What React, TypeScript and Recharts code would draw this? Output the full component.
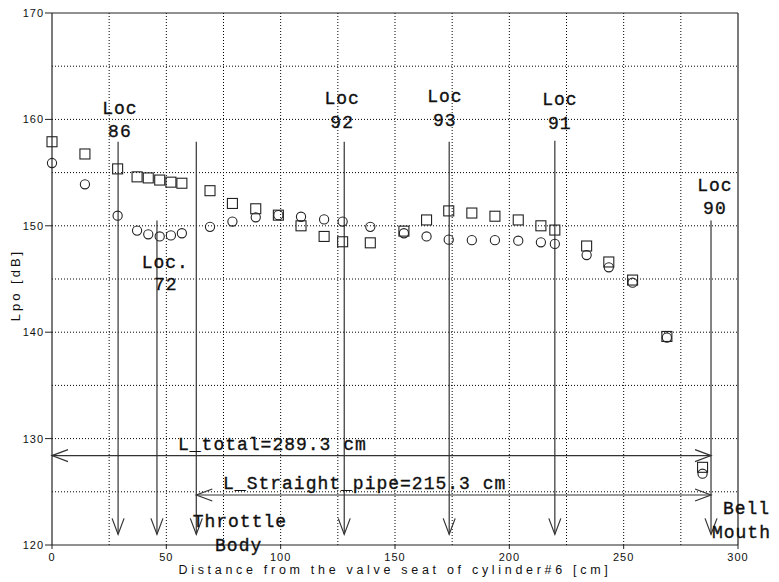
import React from 'react';
import { ScatterChart, Scatter, XAxis, YAxis, ReferenceLine, ReferenceDot } from 'recharts';

// Measurement positions [cm]
const positions = [0, 14.4, 28.7, 37.2, 42.1, 47.1, 52, 56.8, 69.1, 78.9, 89.1, 99, 108.9, 119, 127.1, 139.2, 153.9, 163.8, 173.5, 183.6, 193.7, 203.9, 213.8, 219.9, 233.8, 243.5, 253.9, 268.9, 284.5];
// Series 1 (squares) Lpo [dB]
const squareValues = [157.9, 156.75, 155.35, 154.6, 154.5, 154.3, 154.1, 154.0, 153.3, 152.1, 151.6, 151.0, 150.0, 149.0, 148.5, 148.4, 149.5, 150.55, 151.4, 151.2, 150.9, 150.55, 150.0, 149.6, 148.1, 146.6, 144.9, 139.6, 127.3];
// Series 2 (circles) Lpo [dB]
const circleValues = [155.9, 153.9, 150.95, 149.55, 149.2, 149.0, 149.1, 149.3, 149.9, 150.4, 150.8, 151.0, 150.85, 150.6, 150.4, 149.9, 149.3, 149.0, 148.7, 148.65, 148.65, 148.6, 148.45, 148.3, 147.25, 146.1, 144.65, 139.5, 126.7];

const xTicks = [0, 50, 100, 150, 200, 250, 300];
const yTicks = [120, 130, 140, 150, 160, 170];
const xGrid = [25, 50, 75, 100, 125, 150, 175, 200, 225, 250, 275];
const yGrid = [125, 130, 135, 140, 145, 150, 155, 160, 165];

// Vertical location arrows: x position, top value, bottom value
const arrowX = [28.9, 45.9, 63.1, 127.8, 173.7, 219.9, 288.2];
const arrowTop = [157.9, 150.5, 157.9, 157.9, 157.9, 158.0, 150.5];
const arrowBottom = 121.0;

// Horizontal length arrows
const lengthArrows = [
  { y: 128.4, from: 0, to: 288.2 },
  { y: 124.7, from: 63.1, to: 288.2 },
];

// Text annotations (data coordinates)
const annotations = [
  { text: 'Loc', x: 29.7, y: 161.0, anchor: 'middle' },
  { text: '86', x: 29.7, y: 158.8, anchor: 'middle' },
  { text: 'Loc.', x: 39.2, y: 146.5, anchor: 'start' },
  { text: '72', x: 49.8, y: 144.4, anchor: 'middle' },
  { text: 'Loc', x: 126.9, y: 161.9, anchor: 'middle' },
  { text: '92', x: 126.9, y: 159.65, anchor: 'middle' },
  { text: 'Loc', x: 171.8, y: 162.1, anchor: 'middle' },
  { text: '93', x: 171.8, y: 159.85, anchor: 'middle' },
  { text: 'Loc', x: 222.1, y: 161.8, anchor: 'middle' },
  { text: '91', x: 222.1, y: 159.6, anchor: 'middle' },
  { text: 'Loc', x: 289.9, y: 153.7, anchor: 'middle' },
  { text: '90', x: 289.9, y: 151.55, anchor: 'middle' },
  { text: 'Throttle', x: 61.5, y: 122.15, anchor: 'start' },
  { text: 'Body', x: 71.3, y: 119.9, anchor: 'start' },
  { text: 'Bell', x: 293.4, y: 123.4, anchor: 'start' },
  { text: 'Mouth', x: 288.6, y: 121.1, anchor: 'start' },
  { text: 'L_total=289.3 cm', x: 55.1, y: 129.4, anchor: 'start' },
  { text: 'L_Straight_pipe=215.3 cm', x: 74.8, y: 125.7, anchor: 'start' },
];

const squareData = positions.map((x, i) => ({ x, y: squareValues[i] }));
const circleData = positions.map((x, i) => ({ x, y: circleValues[i] }));

const INK = '#222';
const ARROW = '#333';
const HEAD_LEN = 16;
const HEAD_HALF = 6;

function head(tx: number, ty: number, dx: number, dy: number, key: string) {
  const bx = tx - dx * HEAD_LEN;
  const by = ty - dy * HEAD_LEN;
  const px = -dy * HEAD_HALF;
  const py = dx * HEAD_HALF;
  return (
    <path
      key={key}
      d={`M${bx + px},${by + py} L${tx},${ty} L${bx - px},${by - py}`}
      fill="none"
      stroke={ARROW}
      strokeWidth={1.2}
    />
  );
}

const downArrow = (p: any) => {
  const { x1, y1, y2 } = p;
  const top = Math.min(y1, y2);
  const bot = Math.max(y1, y2);
  return (
    <g>
      <line x1={x1} y1={top} x2={x1} y2={bot} stroke={ARROW} strokeWidth={1.2} />
      {head(x1, bot, 0, 1, 'h')}
    </g>
  );
};

const bothArrow = (p: any) => {
  const { x1, y1, x2 } = p;
  const l = Math.min(x1, x2);
  const r = Math.max(x1, x2);
  return (
    <g>
      <line x1={l} y1={y1} x2={r} y2={y1} stroke={ARROW} strokeWidth={1.2} />
      {head(l, y1, -1, 0, 'l')}
      {head(r, y1, 1, 0, 'r')}
    </g>
  );
};

const squareShape = (p: any) => (
  <rect x={p.cx - 5} y={p.cy - 5} width={10} height={10} fill="none" stroke={INK} strokeWidth={1.1} />
);
const circleShape = (p: any) => (
  <circle cx={p.cx} cy={p.cy} r={4.6} fill="none" stroke={INK} strokeWidth={1.1} />
);

const textShape = (text: string, anchor: string) => (p: any) => (
  <text
    x={p.cx}
    y={p.cy}
    textAnchor={anchor}
    dominantBaseline="central"
    fontFamily="'Liberation Mono', monospace"
    fontSize={18}
    letterSpacing={1}
    fill="#111"
    stroke="#111"
    strokeWidth={0.35}
  >
    {text}
  </text>
);

const tickFont = { fontFamily: "'Liberation Sans', Arial, sans-serif", fontSize: 11, fill: '#111', letterSpacing: 1 };

export default function App() {
  return (
    <div style={{ width: 779, height: 582, background: '#fff' }}>
      <style>{`body{margin:0;background:#fff}`}</style>
      <ScatterChart width={779} height={582} margin={{ top: 13, right: 41, bottom: 7, left: 0 }}>
        {xGrid.map((v) => (
          <ReferenceLine key={`gx${v}`} x={v} stroke="#000" strokeDasharray="1 2" strokeWidth={1} />
        ))}
        {yGrid.map((v) => (
          <ReferenceLine key={`gy${v}`} y={v} stroke="#000" strokeDasharray="1 2" strokeWidth={1} />
        ))}
        <ReferenceLine y={170} stroke={INK} strokeWidth={1.2} />
        <ReferenceLine x={300} stroke={INK} strokeWidth={1.2} />
        <XAxis
          type="number"
          dataKey="x"
          domain={[0, 300]}
          ticks={xTicks}
          interval={0}
          height={30}
          tickSize={4}
          tickMargin={4}
          axisLine={{ stroke: INK, strokeWidth: 1.2 }}
          tickLine={{ stroke: INK }}
          tick={tickFont}
          label={(props: any) => {
            const vb = props.viewBox;
            return (
              <text
                x={vb.x + vb.width / 2}
                y={570}
                textAnchor="middle"
                dominantBaseline="central"
                fontFamily="'Liberation Sans', Arial, sans-serif"
                fontSize={12.5}
                letterSpacing={3.7}
                fill="#111"
              >
                Distance from the valve seat of cylinder#6 [cm]
              </text>
            );
          }}
        />
        <YAxis
          type="number"
          dataKey="y"
          domain={[120, 170]}
          ticks={yTicks}
          interval={0}
          width={52}
          tickSize={7}
          tickMargin={1}
          axisLine={{ stroke: INK, strokeWidth: 1.2 }}
          tickLine={{ stroke: INK }}
          tick={tickFont}
          label={() => (
            <text
              x={15}
              y={285}
              transform="rotate(-90 15 285)"
              textAnchor="middle"
              dominantBaseline="central"
              fontFamily="'Liberation Sans', Arial, sans-serif"
              fontSize={13}
              letterSpacing={3}
              fill="#111"
            >
              Lpo [dB]
            </text>
          )}
        />
        {arrowX.map((x, i) => (
          <ReferenceLine
            key={`va${i}`}
            segment={[{ x, y: arrowTop[i] }, { x, y: arrowBottom }]}
            shape={downArrow}
            ifOverflow="visible"
          />
        ))}
        {lengthArrows.map((a, i) => (
          <ReferenceLine
            key={`ha${i}`}
            segment={[{ x: a.from, y: a.y }, { x: a.to, y: a.y }]}
            shape={bothArrow}
            ifOverflow="visible"
          />
        ))}
        <Scatter data={squareData} shape={squareShape} isAnimationActive={false} />
        <Scatter data={circleData} shape={circleShape} isAnimationActive={false} />
        {annotations.map((a, i) => (
          <ReferenceDot
            key={`t${i}`}
            x={a.x}
            y={a.y}
            r={0}
            ifOverflow="visible"
            shape={textShape(a.text, a.anchor)}
          />
        ))}
      </ScatterChart>
    </div>
  );
}
